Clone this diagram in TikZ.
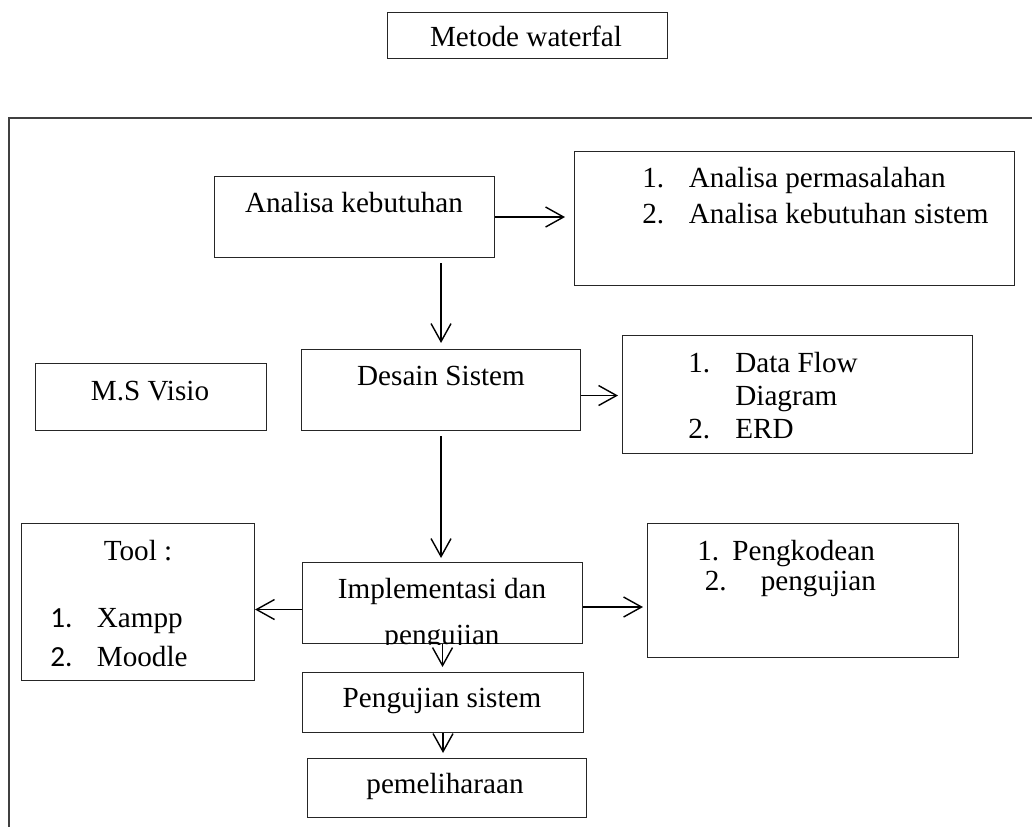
\documentclass[tikz,border=0pt]{standalone}
\usepackage{fontspec}
\setmainfont{Liberation Serif}
\newfontfamily\numfont{Carlito}
\usetikzlibrary{arrows.meta,positioning}

\newcommand{\txtsize}{\fontsize{16.6}{20}\selectfont}

\begin{document}
\begin{tikzpicture}[
  x=0.2mm, y=-0.2mm,
  every node/.style={font=\txtsize, inner sep=0pt},
  box/.style={draw=black!85, line width=0.6pt, anchor=north west},
  txt/.style={anchor=base},
  lst/.style={anchor=base west},
  frame/.style={draw=black!75, line width=0.6pt},
  arrow/.style={-{Straight Barb[length=3.6mm, width=4mm]}, line width=0.8pt},
]
\useasboundingbox (0,0) rectangle (1032,827);

% Title
\node[box, minimum width=56mm, minimum height=9.2mm] (mw) at (387,12) {};
\node[txt] (mw-t) at (526,47) {Metode waterfal};

% Open frame round the stages
\coordinate (fl) at (9,827);
\coordinate (fr) at (1032,118);
\draw[frame] (fl) |- (fr);

% Stage 1
\node[box, minimum width=56mm, minimum height=16.2mm] (ak) at (214,176) {};
\node[txt] (ak-t) at (354,213) {Analisa kebutuhan};
\node[box, minimum width=88mm, minimum height=26.8mm] (akl) at (574,151) {};
\node[lst] (akl-t) at (642,188) {\begin{tabular}[t]{@{}l@{}}
  \makebox[9.3mm][l]{1.}Analisa permasalahan\\
  \makebox[9.3mm][l]{2.}Analisa kebutuhan sistem
\end{tabular}};

% Stage 2
\node[box, minimum width=55.8mm, minimum height=16.2mm] (ds) at (301,349) {};
\node[txt] (ds-t) at (441,385) {Desain Sistem};
\node[box, minimum width=46.2mm, minimum height=13.4mm] (msv) at (35,363) {};
\node[txt] (msv-t) at (150,400) {M.S Visio};
\node[box, minimum width=70mm, minimum height=23.6mm] (dfd) at (622,335) {};
\node[lst] (dfd-t) at (688,372) {\begin{tabular}[t]{@{}l@{}}
  \makebox[9.4mm][l]{1.}Data Flow\\[-1.2pt]
  \makebox[9.4mm][l]{}Diagram\\[-1.2pt]
  \makebox[9.4mm][l]{2.}ERD
\end{tabular}};

% Stage 3 (second line runs past the box and is cut off)
\node[box, minimum width=56mm, minimum height=16.2mm] (impl) at (302,562) {};
\begin{scope}
  \clip (impl.south west) rectangle (impl.north east);
  \node[txt] (impl-t) at (442,598) {\begin{tabular}[t]{@{}c@{}}
    Implementasi dan\\[6.5pt]
    pengujian
  \end{tabular}};
\end{scope}
\node[box, minimum width=46.6mm, minimum height=31.4mm] (tool) at (21,523) {};
\node[txt] (tool-t) at (138,560) {Tool :};
\node[lst] (tool-l) at (50,627) {\begin{tabular}[t]{@{}l@{}}
  \makebox[9.3mm][l]{\numfont 1.}Xampp\\[2.2pt]
  \makebox[9.3mm][l]{\numfont 2.}Moodle
\end{tabular}};
\node[box, minimum width=62.2mm, minimum height=26.8mm] (pk) at (647,523) {};
\node[lst] (pk-t) at (697,560) {\begin{tabular}[t]{@{}l@{}}
  \makebox[7mm][l]{1.}Pengkodean\\[-2.5pt]
  \hspace{1.5mm}\makebox[11.2mm][l]{2.}pengujian
\end{tabular}};

% Stage 4 and 5
\node[box, minimum width=56.2mm, minimum height=12mm] (ps) at (302,672) {};
\node[txt] (ps-t) at (442,707) {Pengujian sistem};
\node[box, minimum width=55.8mm, minimum height=11.8mm] (pm) at (307,758) {};
\node[txt] (pm-t) at (445,793) {pemeliharaan};

% Arrows
\draw[arrow, shorten >=1.8mm] (ak.east) -- (ak.east -| akl.west);
\draw[arrow, shorten <=1mm, shorten >=1.2mm] (ds.north |- ak.south) -- (ds.north);
\draw[arrow, shorten >=0.8mm] ([yshift=-1.1mm]ds.east) -- ([yshift=-1.1mm]ds.east -| dfd.west);
\draw[arrow, shorten <=1mm, shorten >=0.8mm] (ds.south) -- (ds.south |- impl.north);
\draw[arrow] ([yshift=-1.3mm]impl.west) -- ([yshift=-1.3mm]impl.west -| tool.east);
\draw[arrow, shorten >=0.8mm] ([yshift=-0.8mm]impl.east) -- ([yshift=-0.8mm]impl.east -| pk.west);
\draw[arrow, shorten >=1mm] (impl.south) -- (impl.south |- ps.north);
\draw[arrow, shorten >=1mm] (ps.south) -- (ps.south |- pm.north);

\end{tikzpicture}
\end{document}
